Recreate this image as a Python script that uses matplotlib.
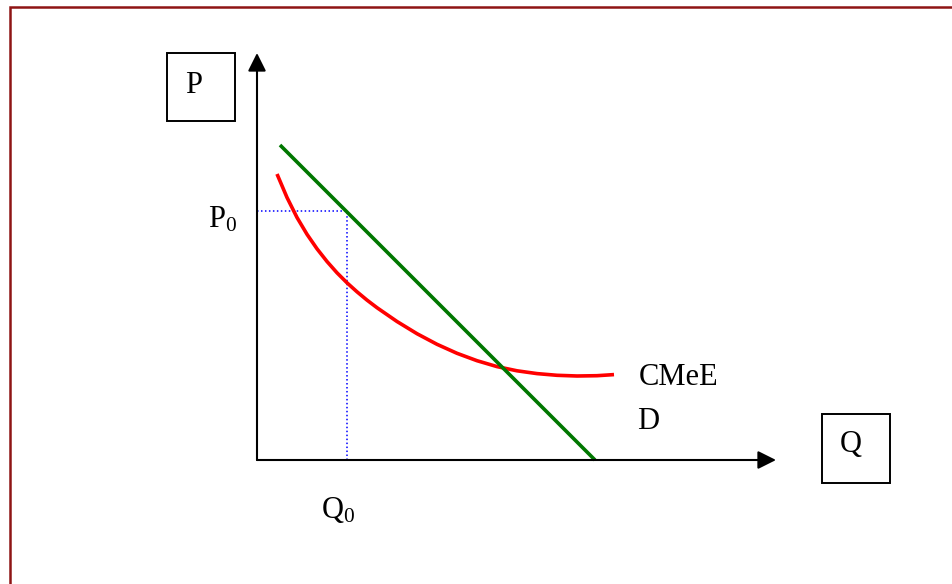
import matplotlib.pyplot as plt
from matplotlib.patches import Rectangle

plt.rcParams['font.family'] = ['Liberation Serif', 'DejaVu Serif']
plt.rcParams['mathtext.fontset'] = 'custom'
plt.rcParams['mathtext.rm'] = 'Liberation Serif'
plt.rcParams['mathtext.it'] = 'Liberation Serif'

# Demand curve D (straight line)
demand_q = [2.3, 33.8]
demand_p = [31.5, 0.0]

# Average cost curve CMeE
cost_q = [2.0, 3.0, 4.0, 5.0, 6.0, 7.0, 8.0, 9.0, 10.0, 11.0, 12.0, 14.0,
          16.0, 18.0, 20.0, 22.0, 24.0, 26.0, 28.0, 30.0, 32.0, 34.0, 35.7]
cost_p = [28.6, 26.25, 24.25, 22.57, 21.12, 19.85, 18.72, 17.72, 16.82, 15.99,
          15.23, 13.85, 12.63, 11.57, 10.67, 9.93, 9.34, 8.92, 8.64, 8.47, 8.40,
          8.43, 8.54]

# Point on the demand curve
q0, p0 = 9.0, 24.9

# Axis extents
q_max, p_max = 51.9, 40.7

fig = plt.figure(figsize=(9.52, 5.84), dpi=100)
ax = fig.add_axes([0, 0, 1, 1])
ax.set_xlim(-25.7, 69.5)
ax.set_ylim(-12.4, 46.0)
ax.axis('off')

# frame around the whole drawing
fig.patches.append(Rectangle((10 / 952, -0.1), 1.2, (584 - 7) / 584 + 0.1,
                             transform=fig.transFigure, fill=False,
                             edgecolor='#8e1414', lw=1.8))

arrow = dict(arrowstyle='-|>,head_length=1.1,head_width=0.55', mutation_scale=10,
             lw=1.5, color='black', shrinkA=0, shrinkB=0)
ax.annotate('', xy=(0, p_max), xytext=(0, 0), arrowprops=arrow)
ax.annotate('', xy=(q_max, 0), xytext=(0, 0), arrowprops=arrow)

# guides to P0 and Q0
ax.plot([0, q0], [p0, p0], color='#0000ff', lw=1.1, ls=(0, (1, 1.6)))
ax.plot([q0, q0], [0, p0], color='#0000ff', lw=1.1, ls=(0, (1, 1.6)))

ax.plot(cost_q, cost_p, color='#ff0000', lw=2.6, solid_capstyle='butt',
        solid_joinstyle='round')
ax.plot(demand_q, demand_p, color='#007700', lw=2.6, solid_capstyle='butt')

# axis name boxes
ax.add_patch(Rectangle((-9.0, 33.9), 6.8, 6.8, fill=False, edgecolor='black', lw=1.4))
ax.add_patch(Rectangle((56.5, -2.3), 6.8, 6.9, fill=False, edgecolor='black', lw=1.4))

fs = 22
ax.text(-7.2, 36.7, 'P', fontsize=fs, va='baseline')
ax.text(58.3, 0.8, 'Q', fontsize=fs, va='baseline')
ax.text(38.2, 7.5, 'CMeE', fontsize=fs, va='baseline')
ax.text(38.0, 3.1, 'D', fontsize=fs, va='baseline')
ax.text(-4.9, 23.3, r'$\mathrm{P}_0$', fontsize=fs, va='baseline')
ax.text(6.4, -5.8, r'$\mathrm{Q}_0$', fontsize=fs, va='baseline')

fig.savefig('out.png', dpi=100)
